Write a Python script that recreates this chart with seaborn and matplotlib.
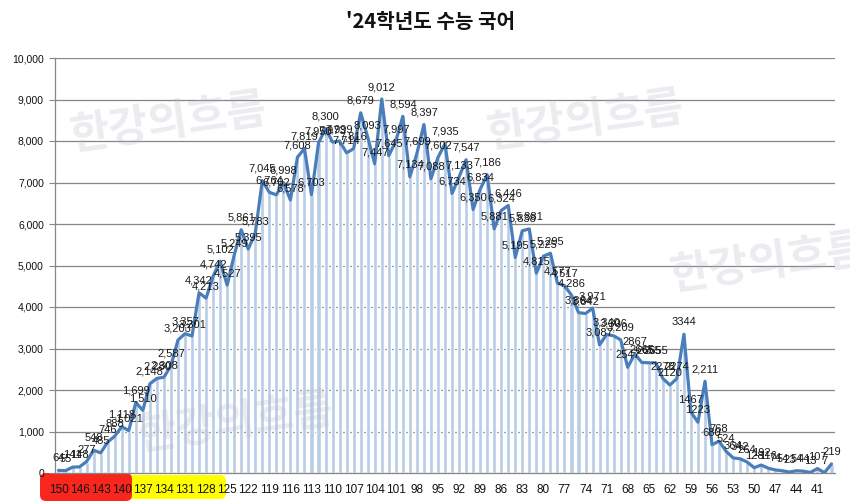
import matplotlib
matplotlib.use('Agg')
import matplotlib.pyplot as plt
import matplotlib.transforms as mtransforms
from matplotlib.patches import FancyBboxPatch
import seaborn as sns
import pandas as pd
import numpy as np

# ---------------- data ----------------
scores = [150, 148, 147, 146, 145, 144, 143, 142, 141, 140, 139, 138, 137, 136, 135,
          134, 133, 132, 131, 130, 129, 128, 127, 126, 125, 124, 123, 122, 121, 120,
          119, 118, 117, 116, 115, 114, 113, 112, 111, 110, 109, 108, 107, 106, 105,
          104, 103, 102, 101, 100, 99, 98, 97, 96, 95, 94, 93, 92, 91, 90,
          89, 88, 87, 86, 85, 84, 83, 82, 81, 80, 79, 78, 77, 76, 75,
          74, 73, 72, 71, 70, 69, 68, 67, 66, 65, 64, 63, 62, 61, 60,
          59, 58, 57, 56, 55, 54, 53, 52, 51, 50, 49, 48, 47, 46, 45,
          44, 43, 42, 41, 40, 39]

counts = [64, 55, 141, 148, 277, 548, 485, 746, 888, 1118, 1021, 1699, 1510, 2148, 2280,
          2308, 2587, 3203, 3357, 3301, 4342, 4213, 4742, 5102, 4527, 5249, 5861, 5395, 5783, 7045,
          6764, 6702, 6998, 6578, 7608, 7819, 6703, 7950, 8300, 7973, 7999, 7714, 7816, 8679, 8093,
          7447, 9012, 7645, 7997, 8594, 7134, 7699, 8397, 7088, 7602, 7935, 6734, 7133, 7547, 6350,
          6834, 7186, 5881, 6324, 6446, 5195, 5838, 5881, 4815, 5225, 5295, 4577, 4517, 4286, 3864,
          3842, 3971, 3087, 3340, 3306, 3209, 2547, 2867, 2665, 2655, 2655, 2278, 2120, 2274, 3344,
          1467, 1223, 2211, 680, 768, 524, 364, 342, 264, 128, 192, 116, 74, 54, 23,
          54, 44, 13, 107, 7, 219]

# scores whose data labels are shown without a thousands separator
plain_label_scores = [68, 67, 66, 65, 64, 63, 62, 61, 60, 59, 58]

title = "'24학년도 수능 국어"
watermark = "한강의흐름"

# ---------------- figure ----------------
sns.set_theme(style='white')
plt.rcParams['font.family'] = ['Liberation Sans', 'Noto Sans CJK KR', 'DejaVu Sans']

W, H = 850, 504
fig = plt.figure(figsize=(W / 100, H / 100), dpi=100)
ax = fig.add_axes([55 / W, 31 / H, 780 / W, 415 / H])

pos = np.arange(len(counts))
df = pd.DataFrame({'pos': pos, 'score': scores, 'count': counts})

grid_col = '#868686'
ax.set_axisbelow(True)
ax.yaxis.grid(True, color=grid_col, lw=0.9)

sns.barplot(data=df, x='pos', y='count', native_scale=True, color='#b9cde5',
            saturation=1, width=0.58, errorbar=None, ax=ax, zorder=2)
sns.lineplot(data=df, x='pos', y='count', estimator=None, color='#4a7ebb',
             lw=2.3, ax=ax, zorder=3)

for p, s, c in zip(pos, scores, counts):
    lab = str(c) if s in plain_label_scores else f"{c:,}"
    ax.annotate(lab, (p, c), xytext=(0, 5), textcoords='offset points',
                ha='center', va='bottom', fontsize=8, color='#1a1a1a', zorder=5)

ax.set_xlim(-0.5, len(counts) - 0.5)
ax.set_ylim(0, 10000)
ax.set_xlabel('')
ax.set_ylabel('')

ax.set_xticks(pos[::3])
ax.set_xticklabels([str(s) for s in scores[::3]], fontsize=8.5, color='#111111')
ax.set_xticks(np.arange(-0.5, len(counts), 1), minor=True)
ax.tick_params(axis='x', which='major', length=0, pad=8)
ax.tick_params(axis='x', which='minor', length=4, color=grid_col, direction='out', width=0.8)

yt = list(range(0, 10001, 1000))
ax.set_yticks(yt)
ax.set_yticklabels([f"{v:,}" for v in yt], fontsize=7.5, color='#111111')
ax.tick_params(axis='y', length=4, color=grid_col, direction='out', width=0.8, pad=4, left=True)

for side in ['top', 'right']:
    ax.spines[side].set_visible(False)
for side in ['left', 'bottom']:
    ax.spines[side].set_color(grid_col)
    ax.spines[side].set_linewidth(0.9)

# title
fig.text(430 / W, 1 - 21 / H, title, ha='center', va='center', fontsize=14.5,
         weight='bold', family=['Noto Sans CJK KR', 'DejaVu Sans'], color='#111111')

# watermarks
for (wx, wy) in [(168, 122), (585, 120), (768, 262), (235, 422)]:
    fig.text(wx / W, 1 - wy / H, watermark, ha='center', va='center', fontsize=31,
             weight='bold', rotation=8, family=['Noto Sans CJK KR', 'DejaVu Sans'],
             color='#b8b8c8', alpha=0.26, zorder=10)

# highlighter marks under the first tick labels
ident = mtransforms.IdentityTransform()
yellow = FancyBboxPatch((62, 11), 158, 12, boxstyle='round,pad=6', fc='#ffff00', ec='none',
                        transform=ident, zorder=-2)
red = FancyBboxPatch((46, 9), 80, 16, boxstyle='round,pad=6', fc='#f8261c', ec='none',
                     transform=ident, zorder=-1)
fig.patches.extend([yellow, red])

fig.savefig('out.png', dpi=100)
